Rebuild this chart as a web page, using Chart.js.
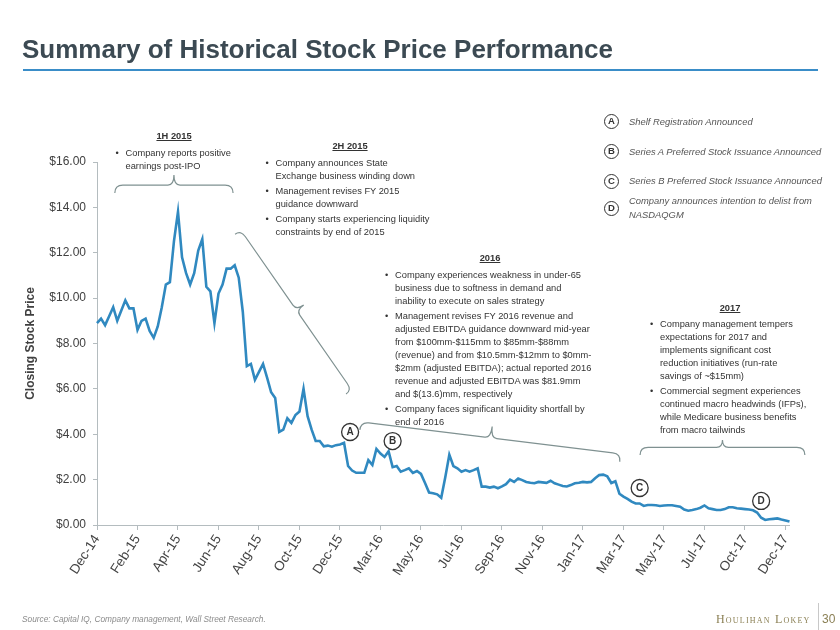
<!DOCTYPE html>
<html>
<head>
<meta charset="utf-8">
<script src="https://cdn.jsdelivr.net/npm/chart.js@4.4.0/dist/chart.umd.min.js"></script>
<style>
  html, body { margin: 0; padding: 0; background: #fff; }
  #page { position: relative; width: 840px; height: 630px; overflow: hidden; font-family: "Liberation Sans", Arial, sans-serif; }
  #chart { position: absolute; left: 0; top: 0; }
  .title { position: absolute; left: 22px; top: 36px; font-size: 26px; line-height: 26px; font-weight: bold; color: #3c4a53; white-space: nowrap; }
  .rule { position: absolute; left: 23px; top: 69px; width: 795px; height: 1.5px; background: #3a8dc8; }
  .note { position: absolute; font-size: 9.3px; line-height: 13px; color: #333; white-space: nowrap; }
  .note ul { margin: 2px 0 0 0; padding: 0; list-style: none; }
  .note li { position: relative; padding-left: 10px; margin-top: 2px; }
  .note li:first-child { margin-top: 0; }
  .note li:before { content: '\2022'; position: absolute; left: 0; }
  .head { position: absolute; font-size: 9.3px; line-height: 13px; font-weight: bold; text-decoration: underline; color: #333; transform: translateX(-50%); white-space: nowrap; }
  .key { position: absolute; left: 604px; width: 15px; height: 15px; border: 1.3px solid #333; border-radius: 50%; box-sizing: border-box; font-size: 9.5px; font-weight: bold; color: #333; text-align: center; line-height: 12.5px; }
  .keytext { position: absolute; left: 629px; font-size: 9.4px; line-height: 13.5px; font-style: italic; color: #555; white-space: nowrap; }
  .source { position: absolute; left: 22px; top: 614px; font-size: 8.3px; font-style: italic; color: #8c8c8c; white-space: nowrap; }
  .brand { position: absolute; left: 716px; top: 612px; font-family: "Liberation Serif", "DejaVu Serif", serif; font-variant: small-caps; font-size: 12px; letter-spacing: 1.2px; color: #8b8055; white-space: nowrap; }
  .divider { position: absolute; left: 818px; top: 603px; width: 1px; height: 28px; background: #c8c8c8; }
  .pageno { position: absolute; left: 822px; top: 612px; font-size: 12px; color: #8b8055; }
</style>
</head>
<body>
<div id="page">
  <canvas id="chart" width="840" height="630"></canvas>
  <div class="title">Summary of Historical Stock Price Performance</div>
  <div class="rule"></div>

  <div class="head" style="left:174px; top:130px;">1H 2015</div>
  <div class="note" style="left:115.5px; top:145px;">
    <ul><li>Company reports positive<br>earnings post-IPO</li></ul>
  </div>

  <div class="head" style="left:350px; top:140px;">2H 2015</div>
  <div class="note" style="left:265.5px; top:155px;">
    <ul>
      <li>Company announces State<br>Exchange business winding down</li>
      <li>Management revises FY 2015<br>guidance downward</li>
      <li>Company starts experiencing liquidity<br>constraints by end of 2015</li>
    </ul>
  </div>

  <div class="head" style="left:490px; top:252px;">2016</div>
  <div class="note" style="left:385px; top:267px;">
    <ul>
      <li>Company experiences weakness in under-65<br>business due to softness in demand and<br>inability to execute on sales strategy</li>
      <li>Management revises FY 2016 revenue and<br>adjusted EBITDA guidance downward mid-year<br>from $100mm-$115mm to $85mm-$88mm<br>(revenue) and from $10.5mm-$12mm to $0mm-<br>$2mm (adjusted EBITDA); actual reported 2016<br>revenue and adjusted EBITDA was $81.9mm<br>and $(13.6)mm, respectively</li>
      <li>Company faces significant liquidity shortfall by<br>end of 2016</li>
    </ul>
  </div>

  <div class="head" style="left:730px; top:302px;">2017</div>
  <div class="note" style="left:650px; top:316px;">
    <ul>
      <li>Company management tempers<br>expectations for 2017 and<br>implements significant cost<br>reduction initiatives (run-rate<br>savings of ~$15mm)</li>
      <li>Commercial segment experiences<br>continued macro headwinds (IFPs),<br>while Medicare business benefits<br>from macro tailwinds</li>
    </ul>
  </div>

  <div class="key" style="top:114px;">A</div>
  <div class="keytext" style="top:115px;">Shelf Registration Announced</div>
  <div class="key" style="top:144px;">B</div>
  <div class="keytext" style="top:145px;">Series A Preferred Stock Issuance Announced</div>
  <div class="key" style="top:173.5px;">C</div>
  <div class="keytext" style="top:174px;">Series B Preferred Stock Issuance Announced</div>
  <div class="key" style="top:200.5px;">D</div>
  <div class="keytext" style="top:194px;">Company announces intention to delist from<br>NASDAQGM</div>

  <div class="source">Source: Capital IQ, Company management, Wall Street Research.</div>
  <div class="brand">Houlihan Lokey</div>
  <div class="divider"></div>
  <div class="pageno">30</div>
</div>

<script>
// 축 라벨 (두 달 남짓 간격, 10개 포인트마다 하나)
const tickLabels = ['Dec-14', 'Feb-15', 'Apr-15', 'Jun-15', 'Aug-15', 'Oct-15', 'Dec-15', 'Mar-16', 'May-16',
  'Jul-16', 'Sep-16', 'Nov-16', 'Jan-17', 'Mar-17', 'May-17', 'Jul-17', 'Oct-17', 'Dec-17'];
const pointsPerTick = 10;

// 종가
const closingPrice = [
  8.9, 9.1, 8.81, 9.2, 9.6, 9.0, 9.45, 9.9, 9.55, 9.55,
  8.6, 9.0, 9.1, 8.55, 8.25, 8.75, 9.6, 10.6, 10.7, 12.5,
  13.8, 11.8, 11.1, 10.6, 11.1, 12.1, 12.6, 10.5, 10.3, 8.9,
  10.2, 10.6, 11.3, 11.3, 11.45, 10.9, 9.4, 7.0, 7.1, 6.4,
  6.75, 7.1, 6.5, 5.85, 5.6, 4.1, 4.2, 4.7, 4.5, 4.85,
  5.0, 6.0, 4.8, 4.2, 3.7, 3.7, 3.47, 3.5, 3.45, 3.52,
  3.55, 3.62, 2.6, 2.4, 2.3, 2.3, 2.3, 2.86, 2.65, 3.35,
  3.15, 3.0, 3.25, 2.55, 2.6, 2.35, 2.42, 2.5, 2.3, 2.38,
  2.25, 1.85, 1.43, 1.4, 1.35, 1.2, 2.1, 3.1, 2.6, 2.5,
  2.35, 2.42, 2.35, 2.42, 2.5, 1.69, 1.69, 1.65, 1.69, 1.62,
  1.7, 1.8, 2.0, 1.9, 2.05, 1.98, 1.9, 1.86, 1.84, 1.9,
  1.88, 1.86, 1.95, 1.84, 1.78, 1.72, 1.7, 1.76, 1.84, 1.86,
  1.9, 1.88, 1.9, 2.06, 2.2, 2.22, 2.15, 1.85, 1.93, 1.38,
  1.25, 1.15, 1.03, 0.95, 0.95, 0.84, 0.88, 0.88, 0.87, 0.84,
  0.86, 0.87, 0.87, 0.84, 0.81, 0.68, 0.63, 0.66, 0.7, 0.76,
  0.86, 0.74, 0.7, 0.66, 0.66, 0.7, 0.78, 0.78, 0.74, 0.72,
  0.7, 0.68, 0.65, 0.55, 0.32, 0.22, 0.25, 0.27, 0.29, 0.24,
  0.2, 0.15
];

// 이벤트 표시 (A~D)
const eventLetters = ['A', 'B', 'C', 'D'];
const eventIndex = [62.5, 73, 134, 164];
const eventLevel = [4.1, 3.7, 1.63, 1.06];

// 구간 괄호: [시작 인덱스, 시작 값, 끝 인덱스, 끝 값]
const braces = [
  [4.4, 14.63, 33.6, 14.63],
  [34.1, 12.82, 61.5, 5.77],
  [64.9, 4.19, 129.1, 2.79],
  [134.1, 3.08, 174.8, 3.08],
];
const braceDepth = [[8, 10], [7, 9], [8, 11.5], [7.7, 7.3]];

const labels = closingPrice.map((v, i) =>
  i % pointsPerTick === 0 ? (tickLabels[i / pointsPerTick] || '') : ''
);

function drawBrace(ctx, S, E, h, c) {
  const dx = E.x - S.x;
  const dy = E.y - S.y;
  const L = Math.hypot(dx, dy);
  const ux = dx / L, uy = dy / L;
  const nx = uy, ny = -ux;
  const P = (a, b) => [S.x + ux * a + nx * b, S.y + uy * a + ny * b];
  const r = 8, rc = 6, m = L / 2;
  ctx.beginPath();
  ctx.moveTo(S.x, S.y);
  ctx.quadraticCurveTo(...P(0, h), ...P(r, h));
  ctx.lineTo(...P(m - rc, h));
  ctx.quadraticCurveTo(...P(m, h), ...P(m, h + c));
  ctx.quadraticCurveTo(...P(m, h), ...P(m + rc, h));
  ctx.lineTo(...P(L - r, h));
  ctx.quadraticCurveTo(...P(L, h), ...P(L, 0));
  ctx.stroke();
}

const notesPlugin = {
  id: 'notes',
  afterDatasetsDraw(chart) {
    const { ctx, scales: { x, y } } = chart;
    ctx.save();
    ctx.strokeStyle = '#7f9191';
    ctx.lineWidth = 1.2;
    braces.forEach((b, k) => {
      const S = { x: x.getPixelForValue(b[0]), y: y.getPixelForValue(b[1]) };
      const E = { x: x.getPixelForValue(b[2]), y: y.getPixelForValue(b[3]) };
      drawBrace(ctx, S, E, braceDepth[k][0], braceDepth[k][1]);
    });
    eventLetters.forEach((letter, k) => {
      const px = x.getPixelForValue(eventIndex[k]);
      const py = y.getPixelForValue(eventLevel[k]);
      ctx.beginPath();
      ctx.arc(px, py, 8.5, 0, Math.PI * 2);
      ctx.fillStyle = '#fff';
      ctx.fill();
      ctx.lineWidth = 1.3;
      ctx.strokeStyle = '#333';
      ctx.stroke();
      ctx.fillStyle = '#333';
      ctx.font = 'bold 10px "Liberation Sans", Arial';
      ctx.textAlign = 'center';
      ctx.textBaseline = 'middle';
      ctx.fillText(letter, px, py + 0.5);
    });
    ctx.restore();
  },
};

const axisGray = '#b4bcbf';

new Chart(document.getElementById('chart'), {
  type: 'line',
  data: {
    labels: labels,
    datasets: [
      {
        data: closingPrice,
        borderColor: '#3089c0',
        borderWidth: 2.6,
        pointRadius: 0,
        tension: 0,
        fill: false,
      },
    ],
  },
  options: {
    responsive: false,
    animation: false,
    events: [],
    layout: { padding: { left: 0, top: 162, right: 50.5, bottom: 0 } },
    plugins: { legend: { display: false }, tooltip: { enabled: false } },
    scales: {
      x: {
        type: 'category',
        offset: false,
        afterBuildTicks: (scale) => {
          scale.ticks = scale.ticks.filter((t) => t.value % pointsPerTick === 0);
        },
        afterFit: (scale) => {
          scale.height = 105;
        },
        grid: { drawOnChartArea: false, drawTicks: true, tickLength: 5, color: axisGray },
        border: { display: true, color: axisGray, width: 1 },
        ticks: {
          autoSkip: false,
          minRotation: 57,
          maxRotation: 57,
          padding: 2,
          color: '#444',
          font: { family: '"Liberation Sans", Arial', size: 13.5 },
        },
      },
      y: {
        min: 0,
        max: 16,
        afterFit: (scale) => {
          scale.width = 97;
        },
        grid: { drawOnChartArea: false, drawTicks: true, tickLength: 4, color: axisGray },
        border: { display: true, color: axisGray, width: 1 },
        ticks: {
          stepSize: 2,
          padding: 7,
          color: '#404040',
          font: { family: '"Liberation Sans", Arial', size: 12 },
          callback: (v) => '$' + Number(v).toFixed(2),
        },
        title: {
          display: true,
          text: 'Closing Stock Price',
          color: '#404040',
          padding: { top: 23, bottom: 4 },
          font: { family: '"Liberation Sans", Arial', size: 12, weight: 'bold' },
        },
      },
    },
  },
  plugins: [notesPlugin],
});
</script>
</body>
</html>
